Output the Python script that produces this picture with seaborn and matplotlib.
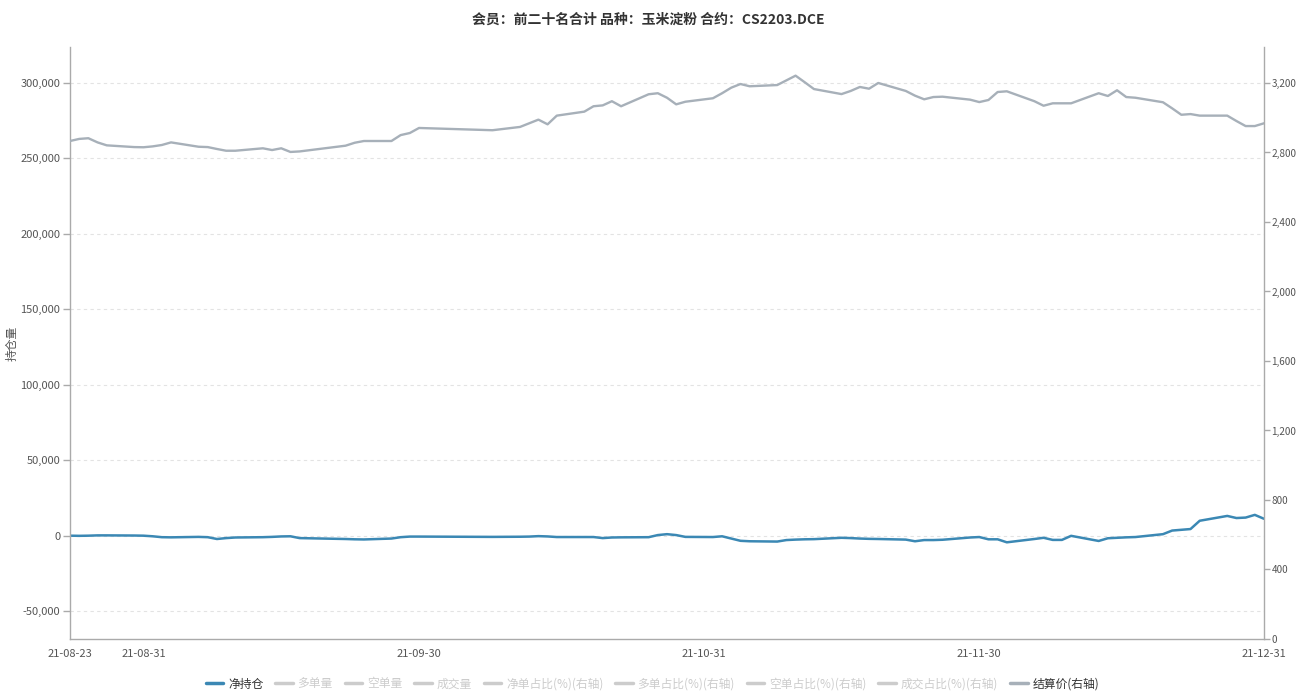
import pandas as pd
import numpy as np
import matplotlib.pyplot as plt
import matplotlib.dates as mdates
from matplotlib.lines import Line2D
from matplotlib.ticker import FuncFormatter, FixedLocator
import seaborn as sns

# trading days of the DCE (weekends and holidays removed)
holidays = ['2021-09-20', '2021-09-21', '2021-10-01', '2021-10-04',
            '2021-10-05', '2021-10-06', '2021-10-07']
dates = [d for d in pd.bdate_range('2021-08-23', '2021-12-31')
         if d.strftime('%Y-%m-%d') not in holidays]

# 净持仓 (left axis)
net_pos = [-100, -200, -100, 100, 100, 0, -100,
           -500, -1100, -1200, -900, -1100, -2300, -1700, -1300, -1100, -900,
           -600, -500, -1700, -2300, -2500, -2600, -2000, -1100, -700, -700,
           -900, -800, -700, -400, -600, -1000, -1000, -1000, -1700, -1300,
           -1200, -1100, 300, 900, 300, -900,
           -1000, -500, -2000, -3500, -3800, -4000, -3000, -2700, -2500, -2400,
           -1500, -1700, -2000, -2200, -2300, -2700, -3800, -3000, -3000, -2800,
           -1300, -1000,
           -2500, -2500, -4500, -2300, -1500, -2900, -2900, -200, -3600, -1800,
           -1500, -1200, -1000, 900, 3300, 3800, 4300, 9800, 13000, 11600,
           11900, 13700, 11100]

# 结算价 (right axis)
settle = [2866, 2878, 2882, 2858, 2841, 2831, 2830,
          2835, 2843, 2858, 2833, 2831, 2820, 2810, 2810, 2824, 2814,
          2824, 2803, 2806, 2839, 2856, 2866, 2866, 2900, 2912, 2941,
          2928, 2947, 2968, 2989, 2962, 3012, 3035, 3066, 3071, 3095,
          3066, 3135, 3141, 3115, 3077, 3092,
          3112, 3141, 3173, 3194, 3181, 3188, 3215, 3242, 3204, 3165,
          3136, 3154, 3177, 3167, 3200, 3154, 3127, 3106, 3119, 3121,
          3104, 3090,
          3102, 3148, 3152, 3095, 3069, 3083, 3083, 3083, 3141, 3125,
          3158, 3119, 3115, 3089, 3054, 3017, 3021, 3012, 3012, 2981,
          2952, 2952, 2968]

x_ticks = ['2021-08-23', '2021-08-31', '2021-09-30', '2021-10-31', '2021-11-30', '2021-12-31']
left_ticks = [-50000, 0, 50000, 100000, 150000, 200000, 250000, 300000]
right_ticks = [0, 400, 800, 1200, 1600, 2000, 2400, 2800, 3200]

legend_names = ['净持仓', '多单量', '空单量', '成交量', '净单占比(%)(右轴)',
                '多单占比(%)(右轴)', '空单占比(%)(右轴)', '成交占比(%)(右轴)', '结算价(右轴)']

title = '会员：前二十名合计 品种：玉米淀粉 合约：CS2203.DCE'

sns.set_style('white')
plt.rcParams['font.family'] = ['Noto Sans CJK SC', 'DejaVu Sans']
plt.rcParams['axes.unicode_minus'] = False

blue = '#3b88b4'
grey = '#a7b0b9'
axis_col = '#aaaaaa'
text_col = '#555555'

df = pd.DataFrame({'date': dates, 'net': net_pos, 'settle': settle})

fig = plt.figure(figsize=(12.97, 6.93), dpi=100)
ax = fig.add_axes([70 / 1297, 1 - 639 / 693, (1264 - 70) / 1297, (639 - 47) / 693])
ax2 = ax.twinx()

sns.lineplot(data=df, x='date', y='net', ax=ax, color=blue, lw=1.8, legend=False)
sns.lineplot(data=df, x='date', y='settle', ax=ax2, color=grey, lw=1.7, legend=False)

ax.set_xlim(pd.Timestamp('2021-08-23'), pd.Timestamp('2021-12-31'))
ax.set_ylim(-68600, 323900)
ax2.set_ylim(0, 3407)

ax.xaxis.set_major_locator(FixedLocator(mdates.date2num(pd.to_datetime(x_ticks))))
ax.xaxis.set_major_formatter(mdates.DateFormatter('%y-%m-%d'))
ax.yaxis.set_major_locator(FixedLocator(left_ticks))
ax.yaxis.set_major_formatter(FuncFormatter(lambda v, p: f'{v:,.0f}'))
ax2.yaxis.set_major_locator(FixedLocator(right_ticks))
ax2.yaxis.set_major_formatter(FuncFormatter(lambda v, p: f'{v:,.0f}'))

ax.grid(axis='y', color='#e3e3e3', ls=(0, (3, 3)), lw=0.8)
ax.set_axisbelow(True)
ax.set_xlabel('')
ax.set_ylabel('持仓量', fontsize=8.5, color=text_col)
ax.yaxis.set_label_coords(-0.043, 0.5)
ax2.set_ylabel('')

for a in (ax, ax2):
    for s in ['left', 'right', 'bottom']:
        a.spines[s].set_color(axis_col)
        a.spines[s].set_linewidth(1)
    a.spines['top'].set_visible(False)
    a.tick_params(colors=axis_col, labelcolor=text_col, labelsize=8, length=5, width=1, pad=2)
ax2.tick_params(labelsize=7.2, pad=1, length=4.5)
ax.spines['right'].set_visible(False)
ax2.spines['left'].set_visible(False)
ax2.spines['bottom'].set_visible(False)

handles = []
for i, n in enumerate(legend_names):
    if i == 0:
        c = blue
    elif i == len(legend_names) - 1:
        c = grey
    else:
        c = '#cccccc'
    handles.append(Line2D([0], [0], color=c, lw=2.5))
leg = fig.legend(handles, legend_names, loc='center', bbox_to_anchor=(0.503, 1 - 684 / 693),
                 ncol=9, frameon=False, fontsize=8.5, handlelength=1.5, handletextpad=0.4,
                 columnspacing=1.0)
for i, t in enumerate(leg.get_texts()):
    if i == 0 or i == len(legend_names) - 1:
        t.set_color('#333333')
    else:
        t.set_color('#cccccc')

fig.text(0.5, 1 - 20 / 693, title, ha='center', va='center', fontsize=10,
         fontweight='bold', color='#333333')

plt.savefig('out.png', dpi=100)
plt.close()
